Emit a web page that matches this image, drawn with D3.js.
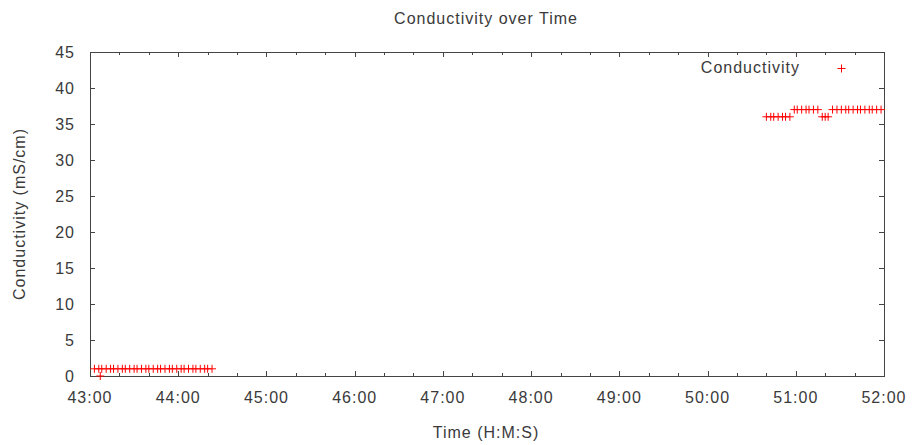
<!DOCTYPE html>
<html>
<head>
<meta charset="utf-8">
<script src="https://cdn.jsdelivr.net/npm/d3@7"></script>
<style>
  body { margin: 0; background: #fff; }
  svg text { font-family: "Liberation Sans", Arial, sans-serif; font-size: 16px; fill: #3a3a3a; letter-spacing: 1px; }
</style>
</head>
<body>
<svg id="chart" width="912" height="445"></svg>
<script>
// readings, "mm:ss" of the hour
const times = [
  "43:03", "43:06", "43:07", "43:08", "43:11", "43:14", "43:16", "43:19", "43:22", "43:24",
  "43:27", "43:30", "43:32", "43:35", "43:38", "43:40", "43:43", "43:46", "43:48", "43:51",
  "43:54", "43:56", "43:59", "44:02", "44:04", "44:07", "44:10", "44:12", "44:15", "44:18",
  "44:20", "44:23",
  "50:40", "50:43", "50:45", "50:48", "50:51", "50:53", "50:56",
  "50:59", "51:01", "51:04", "51:07", "51:09", "51:12", "51:15",
  "51:18", "51:20", "51:22",
  "51:25", "51:28", "51:31", "51:34", "51:36", "51:39", "51:42", "51:44", "51:47", "51:50",
  "51:52", "51:55", "51:58"
];
const conductivity = [
  1, 1, 0, 1, 1, 1, 1, 1, 1, 1,
  1, 1, 1, 1, 1, 1, 1, 1, 1, 1,
  1, 1, 1, 1, 1, 1, 1, 1, 1, 1,
  1, 1,
  36, 36, 36, 36, 36, 36, 36,
  37, 37, 37, 37, 37, 37, 37,
  36, 36, 36,
  37, 37, 37, 37, 37, 37, 37, 37, 37, 37,
  37, 37, 37
];
const xTickLabels = ["43:00", "44:00", "45:00", "46:00", "47:00", "48:00", "49:00", "50:00", "51:00", "52:00"];
const yTicks = [0, 5, 10, 15, 20, 25, 30, 35, 40, 45];

const parseTime = d3.timeParse("%M:%S");
const fmt = d3.timeFormat("%M:%S");
const points = times.map((t, i) => ({ t: parseTime(t), v: conductivity[i] }));

const svg = d3.select("#chart");
const plotLeft = 90, plotRight = 884, plotTop = 52, plotBottom = 376;
const axisColor = "#444";
const red = "#ff0000";

const xTicks = xTickLabels.map(parseTime);
const x = d3.scaleTime()
  .domain([xTicks[0], xTicks[xTicks.length - 1]])
  .range([plotLeft, plotRight]);
const y = d3.scaleLinear().domain([0, 45]).range([plotBottom, plotTop]);

const minorTicks = d3.timeSecond.every(20).range(xTicks[0], xTicks[xTicks.length - 1])
  .filter(d => d.getSeconds() !== 0);

// tick marks on all four sides, pointing inwards
function tickMarks(g, axis, pos) {
  g.call(axis).call(a => a.select(".domain").remove())
    .call(a => a.selectAll(".tick line").attr("stroke", axisColor))
    .attr("transform", pos);
}
svg.append("g").call(tickMarks, d3.axisTop(x).tickValues(xTicks).tickSize(5).tickFormat(""), `translate(0,${plotBottom})`);
svg.append("g").call(tickMarks, d3.axisTop(x).tickValues(minorTicks).tickSize(3).tickFormat(""), `translate(0,${plotBottom})`);
svg.append("g").call(tickMarks, d3.axisBottom(x).tickValues(xTicks).tickSize(5).tickFormat(""), `translate(0,${plotTop})`);
svg.append("g").call(tickMarks, d3.axisBottom(x).tickValues(minorTicks).tickSize(3).tickFormat(""), `translate(0,${plotTop})`);
svg.append("g").call(tickMarks, d3.axisRight(y).tickValues(yTicks).tickSize(5).tickFormat(""), `translate(${plotLeft},0)`);
svg.append("g").call(tickMarks, d3.axisLeft(y).tickValues(yTicks).tickSize(5).tickFormat(""), `translate(${plotRight},0)`);
svg.selectAll(".tick line").attr("shape-rendering", "crispEdges");

// tick labels
svg.append("g").selectAll("text").data(xTicks).join("text")
  .attr("x", d => x(d)).attr("y", 403)
  .attr("text-anchor", "middle")
  .text(d => fmt(d));
svg.append("g").selectAll("text").data(yTicks).join("text")
  .attr("x", 75).attr("y", d => y(d) + 6)
  .attr("text-anchor", "end")
  .text(d => d);

// border
svg.append("rect")
  .attr("x", plotLeft + 0.5).attr("y", plotTop + 0.5)
  .attr("width", plotRight - plotLeft).attr("height", plotBottom - plotTop)
  .attr("fill", "none").attr("stroke", axisColor).attr("shape-rendering", "crispEdges");

// points as "+" (antialiased, at their exact positions)
function crossPath(cx, cy, r) {
  return `M${cx - r},${cy}H${cx + r}M${cx},${cy - r}V${cy + r}`;
}
svg.append("g").selectAll("path").data(points).join("path")
  .attr("d", d => crossPath(x(d.t), y(d.v), 4))
  .attr("stroke", red).attr("stroke-width", 1).attr("fill", "none");

// titles
svg.append("text").attr("x", 486).attr("y", 24).attr("text-anchor", "middle").text("Conductivity over Time");
svg.append("text").attr("x", 486).attr("y", 438).attr("text-anchor", "middle").text("Time (H:M:S)");
svg.append("text")
  .attr("transform", `translate(25,${(plotTop + plotBottom) / 2}) rotate(-90)`)
  .attr("text-anchor", "middle")
  .text("Conductivity (mS/cm)");

// legend
svg.append("text").attr("x", 800).attr("y", 73).attr("text-anchor", "end").text("Conductivity");
svg.append("path").attr("d", crossPath(841.5, 68.5, 4)).attr("stroke", red).attr("fill", "none");
</script>
</body>
</html>
